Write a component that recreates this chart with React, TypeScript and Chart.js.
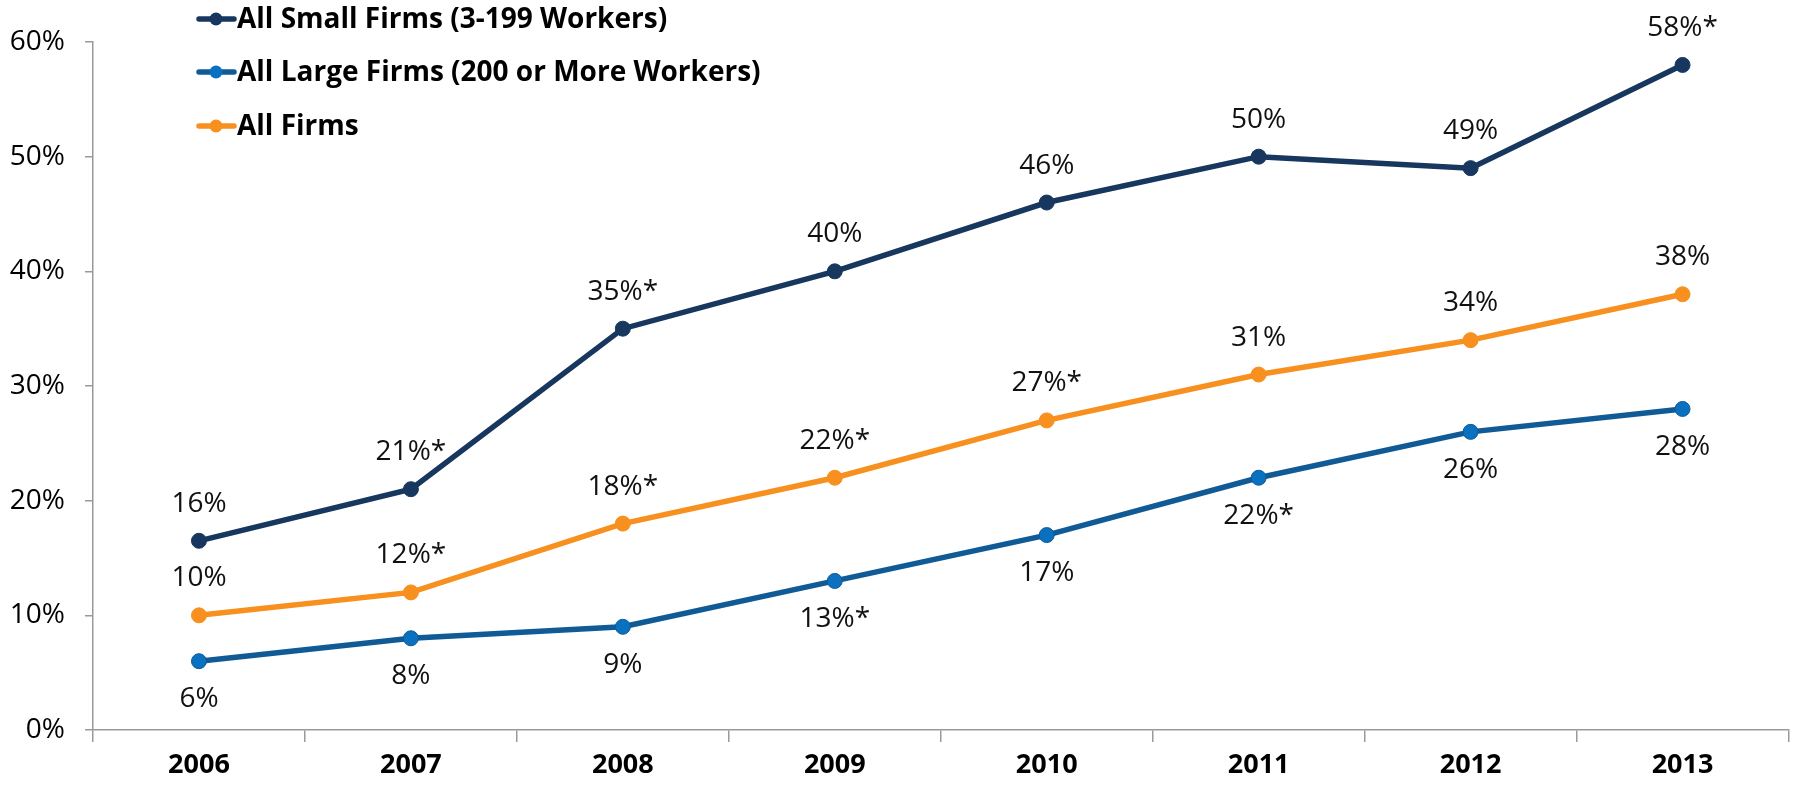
import React, { useEffect, useRef } from "react";
import { Chart, registerables } from "chart.js";

Chart.register(...registerables);

const years = ["2006", "2007", "2008", "2009", "2010", "2011", "2012", "2013"];
const smallFirms = [16.5, 21, 35, 40, 46, 50, 49, 58];
const largeFirms = [6, 8, 9, 13, 17, 22, 26, 28];
const allFirms = [10, 12, 18, 22, 27, 31, 34, 38];
const smallLabels = ["16%", "21%*", "35%*", "40%", "46%", "50%", "49%", "58%*"];
const largeLabels = ["6%", "8%", "9%", "13%*", "17%", "22%*", "26%", "28%"];
const allLabels = ["10%", "12%*", "18%*", "22%*", "27%*", "31%", "34%", "38%"];
const seriesNames = ["All Small Firms (3-199 Workers)", "All Large Firms (200 or More Workers)", "All Firms"];
const yTicks = [0, 10, 20, 30, 40, 50, 60];

const FONT = "'Open Sans', sans-serif";

export default function App() {
  const ref = useRef<HTMLCanvasElement | null>(null);
  useEffect(() => {
    document.body.style.margin = "0";
    const canvas = ref.current!;
    const labelSets = [smallLabels, largeLabels, allLabels];
    const labelPos = ["above", "below", "above"];

    const dataLabels = {
      id: "dataLabels",
      afterDatasetsDraw(chart: any) {
        const ctx = chart.ctx;
        ctx.save();
        ctx.font = `28px ${FONT}`;
        ctx.fillStyle = "#111";
        ctx.textAlign = "center";
        ctx.textBaseline = "middle";
        chart.data.datasets.forEach((ds: any, i: number) => {
          const meta = chart.getDatasetMeta(i);
          meta.data.forEach((pt: any, j: number) => {
            const dy = labelPos[i] === "above" ? -37 : 38;
            ctx.fillText(labelSets[i][j], pt.x, pt.y + dy);
          });
        });
        ctx.restore();
      },
    };

    const customLegend = {
      id: "customLegend",
      afterDraw(chart: any) {
        const ctx = chart.ctx;
        ctx.save();
        ctx.font = `bold 28px ${FONT}`;
        ctx.textBaseline = "middle";
        ctx.textAlign = "left";
        const x0 = 199;
        const rows = [19, 72, 126];
        chart.data.datasets.forEach((ds: any, i: number) => {
          const y = rows[i];
          ctx.strokeStyle = ds.borderColor;
          ctx.lineWidth = 5.5;
          ctx.lineCap = "round";
          ctx.beginPath();
          ctx.moveTo(x0, y);
          ctx.lineTo(x0 + 35, y);
          ctx.stroke();
          ctx.beginPath();
          ctx.fillStyle = ds.pointBackgroundColor;
          ctx.arc(x0 + 17, y, 6.5, 0, Math.PI * 2);
          ctx.fill();
          ctx.fillStyle = "#000";
          ctx.fillText(ds.label, x0 + 38, y + 1);
        });
        ctx.restore();
      },
    };

    const mk = (label: string, data: number[], line: string, fill: string) => ({
      label,
      data,
      borderColor: line,
      backgroundColor: fill,
      pointBackgroundColor: fill,
      pointBorderColor: line,
      borderWidth: 5.5,
      pointRadius: 7.5,
      pointBorderWidth: 1,
      tension: 0,
    });

    const chart = new Chart(canvas, {
      type: "line",
      data: {
        labels: years,
        datasets: [
          mk(seriesNames[0], smallFirms, "#17375E", "#17375E"),
          mk(seriesNames[1], largeFirms, "#105A95", "#0A70C0"),
          mk(seriesNames[2], allFirms, "#F7901E", "#F7901E"),
        ],
      },
      options: {
        responsive: false,
        animation: false,
        layout: { padding: { top: 42, right: 6, left: 0, bottom: 0 } },
        plugins: {
          legend: { display: false },
          tooltip: { enabled: false },
        },
        scales: {
          x: {
            offset: true,
            grid: {
              offset: true,
              drawOnChartArea: false,
              drawTicks: true,
              tickLength: 12,
              color: "#999",
              lineWidth: 1.5,
            },
            border: { color: "#999", width: 1.5 },
            ticks: {
              color: "#000",
              font: { family: FONT, size: 27, weight: "bold" },
              padding: 7,
              maxRotation: 0,
            },
            afterFit(scale: any) {
              scale.height = 63;
            },
          },
          y: {
            min: 0,
            max: 60,
            afterBuildTicks(scale: any) {
              scale.ticks = yTicks.map((v) => ({ value: v }));
            },
            grid: {
              drawOnChartArea: false,
              drawTicks: true,
              tickLength: 8,
              color: "#999",
              lineWidth: 1.5,
            },
            border: { color: "#999", width: 1.5 },
            ticks: {
              color: "#000",
              font: { family: FONT, size: 28 },
              padding: 20,
              callback: (v: any) => `${v}%`,
            },
            afterFit(scale: any) {
              scale.width = 93;
            },
          },
        },
      },
      plugins: [dataLabels, customLegend],
    });
    return () => chart.destroy();
  }, []);
  return <canvas ref={ref} width={1797} height={793} style={{ display: "block" }} />;
}
